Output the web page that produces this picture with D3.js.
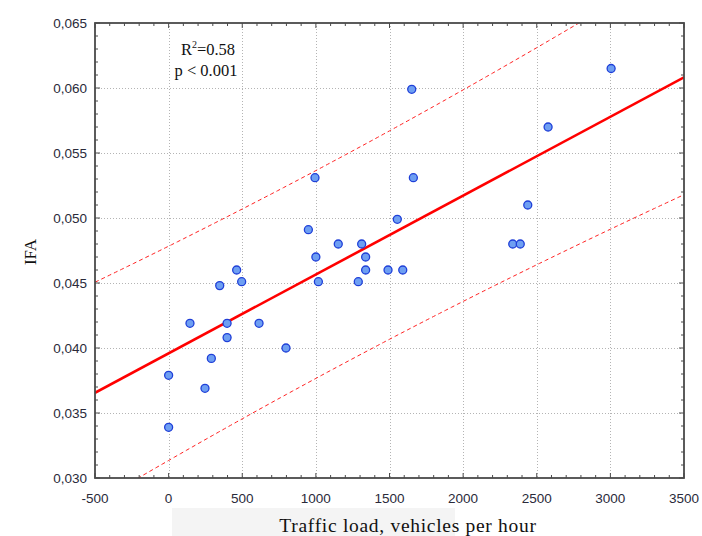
<!DOCTYPE html>
<html>
<head>
<meta charset="utf-8">
<script src="https://cdn.jsdelivr.net/npm/d3@7"></script>
<style>
  html, body { margin: 0; padding: 0; background: #fff; }
  svg { display: block; }
</style>
</head>
<body>
<svg id="chart" width="702" height="536"></svg>
<script>
// Traffic load (vehicles per hour) against IFA, one entry per site
const trafficLoad = [0, 0, 145, 290, 247, 347, 397, 397, 462, 496, 614, 797, 949, 994, 1000, 1017,
  1152, 1288, 1311, 1338, 1338, 1490, 1553, 1590, 1651, 1662, 2337, 2388, 2439, 2577, 3005];
const ifaValues = [0.0339, 0.0379, 0.0419, 0.0392, 0.0369, 0.0448, 0.0419, 0.0408, 0.0460, 0.0451, 0.0419, 0.0400,
  0.0491, 0.0531, 0.0470, 0.0451, 0.0480, 0.0451, 0.0480, 0.0470, 0.0460, 0.0460, 0.0499, 0.0460, 0.0599, 0.0531,
  0.0480, 0.0480, 0.0510, 0.0570, 0.0615];

// fitted line: IFA = intercept + slope * load
const fitCoefficients = [0.03959, 6.065e-6];

const xTicks = [-500, 0, 500, 1000, 1500, 2000, 2500, 3000, 3500];
const yTicks = [0.030, 0.035, 0.040, 0.045, 0.050, 0.055, 0.060, 0.065];
const xTitle = "Traffic load, vehicles per hour";
const yTitle = "IFA";
const rSquaredText = "0.58";
const pValueText = "p < 0.001";

const svg = d3.select("#chart");
const plot = { left: 95, right: 684, top: 23, bottom: 478 };

const x = d3.scaleLinear().domain([-500, 3500]).range([plot.left, plot.right]);
const y = d3.scaleLinear().domain([0.030, 0.065]).range([plot.bottom, plot.top]);

// 95% prediction band around the fitted line
const [intercept, slope] = fitCoefficients;
const fit = v => intercept + slope * v;
const n = trafficLoad.length;
const xm = d3.mean(trafficLoad);
const sxx = d3.sum(trafficLoad, v => (v - xm) ** 2);
const sse = d3.sum(trafficLoad, (v, i) => (ifaValues[i] - fit(v)) ** 2);
const se = Math.sqrt(sse / (n - 2));
const tCrit = 2.045; // t(0.975, 29 df)
const halfWidth = v => tCrit * se * Math.sqrt(1 + 1 / n + (v - xm) ** 2 / sxx);
const xs = d3.range(-500, 3501, 20);

// grey strip behind the axis title
svg.append("rect").attr("x", 172).attr("y", 508).attr("width", 283).attr("height", 28).attr("fill", "#f4f4f4");

svg.append("clipPath").attr("id", "plotClip").append("rect")
  .attr("x", plot.left).attr("y", plot.top)
  .attr("width", plot.right - plot.left).attr("height", plot.bottom - plot.top);

// grid
const grid = svg.append("g").attr("stroke", "#b4b4b4").attr("stroke-width", 1).attr("stroke-dasharray", "1,2");
grid.selectAll("line.gx").data(xTicks.slice(1, -1)).join("line")
  .attr("x1", d => Math.round(x(d)) + 0.5).attr("x2", d => Math.round(x(d)) + 0.5)
  .attr("y1", plot.top).attr("y2", plot.bottom);
grid.selectAll("line.gy").data(yTicks.slice(1, -1)).join("line")
  .attr("y1", d => Math.round(y(d)) + 0.5).attr("y2", d => Math.round(y(d)) + 0.5)
  .attr("x1", plot.left).attr("x2", plot.right);

// regression line and band
const lines = svg.append("g").attr("clip-path", "url(#plotClip)");
const lineGen = d3.line().x(d => x(d[0])).y(d => y(d[1]));
[1, -1].forEach(sign => {
  lines.append("path")
    .datum(xs.map(v => [v, fit(v) + sign * halfWidth(v)]))
    .attr("d", lineGen).attr("fill", "none").attr("stroke", "#ff2020").attr("stroke-width", 1)
    .attr("stroke-dasharray", "4,3");
});
lines.append("path")
  .datum([[-500, fit(-500)], [3500, fit(3500)]])
  .attr("d", lineGen).attr("fill", "none").attr("stroke", "#ff0000").attr("stroke-width", 2.6);

// points
svg.append("g").selectAll("circle").data(trafficLoad).join("circle")
  .attr("cx", d => x(d)).attr("cy", (d, i) => y(ifaValues[i]))
  .attr("r", 4).attr("fill", "#6e9ff2").attr("stroke", "#1f3fd8").attr("stroke-width", 1.3);

// frame
svg.append("rect")
  .attr("x", plot.left).attr("y", plot.top)
  .attr("width", plot.right - plot.left).attr("height", plot.bottom - plot.top)
  .attr("fill", "none").attr("stroke", "#4a4a4a").attr("stroke-width", 1.8);

// inward ticks on all four sides
const minorX = d3.range(-500, 3501, 100);
const minorY = d3.range(30, 66, 1).map(v => v / 1000);
const ticks = svg.append("g").attr("stroke", "#4a4a4a").attr("stroke-width", 1);
ticks.selectAll("line.bx").data(minorX).join("line")
  .attr("x1", d => x(d)).attr("x2", d => x(d))
  .attr("y1", plot.bottom).attr("y2", d => plot.bottom - (d % 500 === 0 ? 5 : 3));
ticks.selectAll("line.tx").data(minorX).join("line")
  .attr("x1", d => x(d)).attr("x2", d => x(d))
  .attr("y1", plot.top).attr("y2", d => plot.top + (d % 500 === 0 ? 5 : 3));
ticks.selectAll("line.ly").data(minorY).join("line")
  .attr("y1", d => y(d)).attr("y2", d => y(d))
  .attr("x1", plot.left).attr("x2", d => plot.left + (Math.round(d * 1000) % 5 === 0 ? 5 : 3));
ticks.selectAll("line.ry").data(minorY).join("line")
  .attr("y1", d => y(d)).attr("y2", d => y(d))
  .attr("x1", plot.right).attr("x2", d => plot.right - (Math.round(d * 1000) % 5 === 0 ? 5 : 3));

// tick labels
const labelFont = "'Liberation Sans', Arial, sans-serif";
svg.append("g").selectAll("text").data(yTicks).join("text")
  .attr("x", plot.left - 8).attr("y", d => y(d)).attr("dy", "0.36em")
  .attr("text-anchor", "end").attr("font-family", labelFont).attr("font-size", 13.5)
  .attr("fill", "#2a2a3a")
  .text(d => d3.format(".3f")(d).replace(".", ","));
svg.append("g").selectAll("text").data(xTicks).join("text")
  .attr("x", d => x(d)).attr("y", 503)
  .attr("text-anchor", "middle").attr("font-family", labelFont).attr("font-size", 13.5)
  .attr("fill", "#2a2a3a")
  .text(d => d);

// axis titles
const serif = "'Liberation Serif', 'Times New Roman', serif";
svg.append("text")
  .attr("x", 408).attr("y", 532)
  .attr("text-anchor", "middle").attr("font-family", serif).attr("font-size", 19.5)
  .attr("letter-spacing", 0.7)
  .attr("fill", "#111").text(xTitle);
svg.append("text")
  .attr("transform", "translate(36,252) rotate(-90)")
  .attr("text-anchor", "middle").attr("font-family", serif).attr("font-size", 17)
  .attr("fill", "#111").text(yTitle);

// fit statistics
const stats = svg.append("g").attr("font-family", serif).attr("font-size", 16.5).attr("fill", "#111");
const r2 = stats.append("text").attr("x", 208).attr("y", 55).attr("text-anchor", "middle");
r2.append("tspan").text("R");
r2.append("tspan").attr("font-size", 10).attr("dy", -7).text("2");
r2.append("tspan").attr("dy", 7).text("=" + rSquaredText);
stats.append("text").attr("x", 206).attr("y", 76).attr("text-anchor", "middle").text(pValueText);
</script>
</body>
</html>
